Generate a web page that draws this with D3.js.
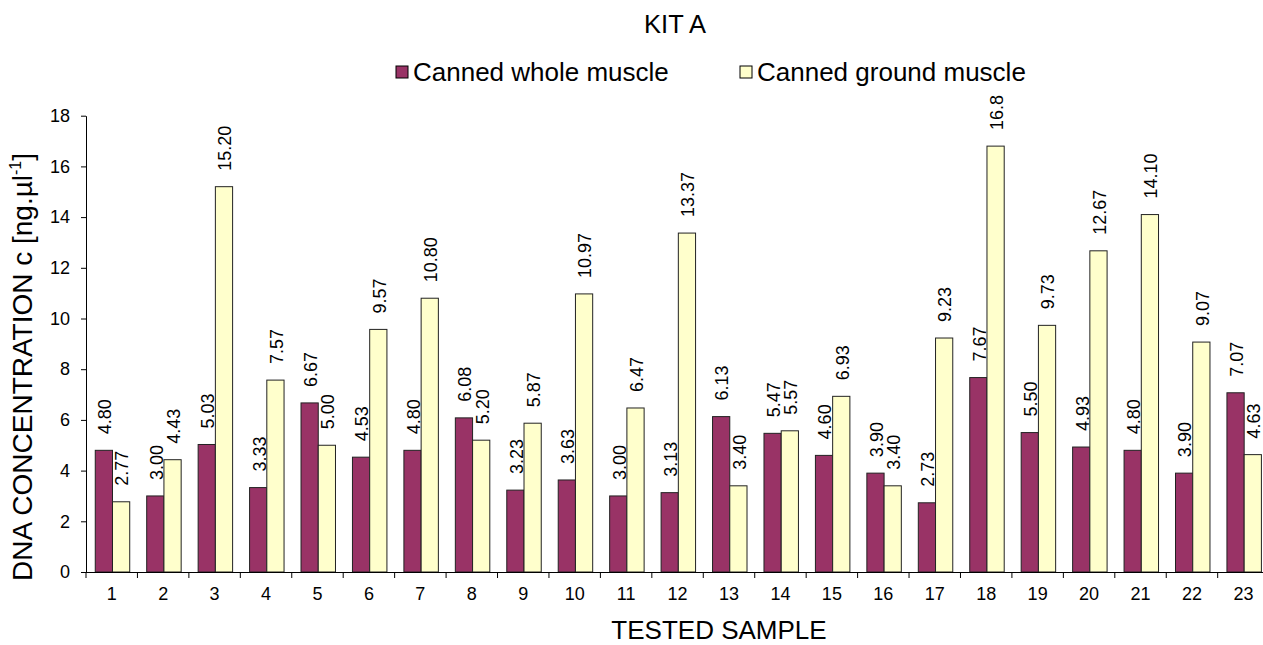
<!DOCTYPE html>
<html>
<head>
<meta charset="utf-8">
<script src="https://cdn.jsdelivr.net/npm/d3@7"></script>
<style>
  html, body { margin: 0; padding: 0; background: #fff; }
  svg { display: block; font-family: Arial, "Liberation Sans", sans-serif; }
</style>
</head>
<body>
<svg id="chart" width="1263" height="645"></svg>
<script>
// Samples tested with kit A
const samples = ["1","2","3","4","5","6","7","8","9","10","11","12","13","14","15","16","17","18","19","20","21","22","23"];

// DNA concentration, ng/µl, as printed above each bar
const wholeMuscle = ["4.80","3.00","5.03","3.33","6.67","4.53","4.80","6.08","3.23","3.63","3.00","3.13","6.13","5.47","4.60","3.90","2.73","7.67","5.50","4.93","4.80","3.90","7.07"];
const groundMuscle = ["2.77","4.43","15.20","7.57","5.00","9.57","10.80","5.20","5.87","10.97","6.47","13.37","3.40","5.57","6.93","3.40","9.23","16.8","9.73","12.67","14.10","9.07","4.63"];

const seriesNames = ["Canned whole muscle", "Canned ground muscle"];
const seriesColors = ["#993366", "#FFFFCC"];
const yTicks = [0, 2, 4, 6, 8, 10, 12, 14, 16, 18];

const series = [wholeMuscle, groundMuscle];

const svg = d3.select("#chart");

const plotLeft = 86, plotTop = 115.7, plotBottom = 572, bandStep = 51.44;

const x0 = d3.scaleBand()
  .domain(samples)
  .range([plotLeft, plotLeft + bandStep * samples.length])
  .padding(0);

const x1 = d3.scaleBand()
  .domain(seriesNames)
  .range([x0.bandwidth() * 0.18, x0.bandwidth() * 0.85])
  .padding(0);

const y = d3.scaleLinear().domain([0, 18]).range([plotBottom, plotTop]);

// Title
svg.append("text")
  .attr("x", 675).attr("y", 33)
  .attr("text-anchor", "middle")
  .attr("font-size", 25.5)
  .text("KIT A");

// Legend
const legend = svg.append("g");
const legendX = [396, 740];
seriesNames.forEach((name, i) => {
  legend.append("rect")
    .attr("x", legendX[i]).attr("y", 66)
    .attr("width", 12).attr("height", 12)
    .attr("fill", seriesColors[i])
    .attr("stroke", "#000").attr("stroke-width", 1);
  legend.append("text")
    .attr("x", legendX[i] + 17).attr("y", 81)
    .attr("font-size", 26)
    .text(name);
});

// Bars
const groups = svg.append("g").selectAll("g")
  .data(samples)
  .join("g")
  .attr("transform", d => `translate(${x0(d)},0)`);

series.forEach((vals, si) => {
  groups.append("rect")
    .attr("x", x1(seriesNames[si]))
    .attr("width", x1.bandwidth())
    .attr("y", (d, i) => y(+vals[i]))
    .attr("height", (d, i) => y(0) - y(+vals[i]))
    .attr("fill", seriesColors[si])
    .attr("stroke", "#222").attr("stroke-width", 1);

  groups.append("text")
    .attr("transform", (d, i) => `translate(${x1(seriesNames[si]) + x1.bandwidth() / 2 + 1},${y(+vals[i]) - 16}) rotate(-90)`)
    .attr("dy", "0.35em")
    .attr("font-size", 18)
    .attr("text-anchor", "start")
    .text((d, i) => vals[i]);
});

// Y axis
const yAxis = svg.append("g")
  .attr("transform", `translate(${plotLeft},0)`)
  .call(d3.axisLeft(y).tickValues(yTicks).tickSize(5).tickPadding(11).tickSizeOuter(0));
yAxis.selectAll("text").attr("font-size", 18).attr("fill", "#000").attr("font-family", "Arial, 'Liberation Sans', sans-serif");
yAxis.selectAll("line, path").attr("stroke", "#000");

// X axis
const xAxis = svg.append("g")
  .attr("transform", `translate(0,${plotBottom})`)
  .call(d3.axisBottom(x0).tickSize(0).tickPadding(15));
xAxis.selectAll("text").attr("font-size", 18).attr("fill", "#000").attr("font-family", "Arial, 'Liberation Sans', sans-serif");
xAxis.select("path").attr("stroke", "#000").attr("d", `M${plotLeft},0.5H${x0.range()[1]}`);
// tick marks between samples
xAxis.append("g").selectAll("line")
  .data(d3.range(samples.length + 1))
  .join("line")
  .attr("x1", i => plotLeft + i * x0.step())
  .attr("x2", i => plotLeft + i * x0.step())
  .attr("y1", 0).attr("y2", 6)
  .attr("stroke", "#000");

// Axis titles
svg.append("text")
  .attr("x", 719).attr("y", 639)
  .attr("text-anchor", "middle")
  .attr("font-size", 26)
  .text("TESTED SAMPLE");

const yTitle = svg.append("text")
  .attr("transform", "translate(32,367) rotate(-90)")
  .attr("text-anchor", "middle")
  .attr("font-size", 28);
yTitle.append("tspan").text("DNA CONCENTRATION c [ng.µl");
yTitle.append("tspan").attr("font-size", 16).attr("dy", -11).text("-1");
yTitle.append("tspan").attr("dy", 11).text("]");
</script>
</body>
</html>
